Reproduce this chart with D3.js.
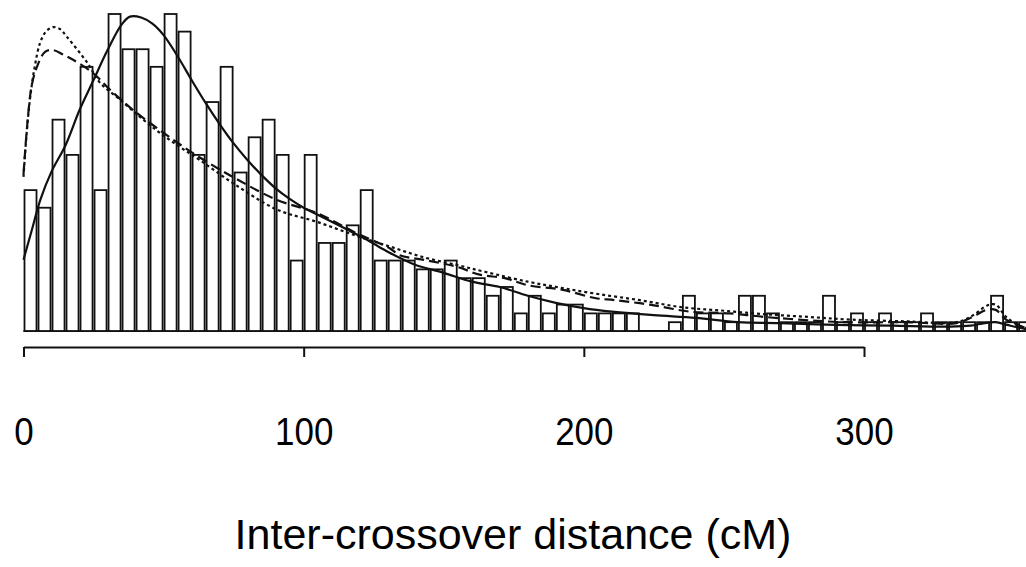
<!DOCTYPE html>
<html>
<head>
<meta charset="utf-8">
<script src="https://cdn.jsdelivr.net/npm/d3@7"></script>
<style>
  html, body { margin: 0; padding: 0; background: #fff; }
  svg { display: block; }
  text { font-family: "Liberation Sans", Arial, Helvetica, sans-serif; fill: #000; }
</style>
</head>
<body>
<svg id="chart" width="1026" height="567"></svg>
<script>
// ---- data ----
const binWidth = 5;
const binStarts = d3.range(0, 360, 5);
const binCounts = [16,14,24,20,30,16,36,32,32,30,36,34,20,26,30,18,22,24,20,8,
                   20,10,10,12,16,8,8,8,7,7,8,6,6,4,5,2,4,2,3,3,
                   2,2,2,2,0,0,1,4,2,2,1,4,4,2,1,1,1,4,1,2,
                   1,2,1,1,2,1,1,1,1,4,1,1];

const xTicks = [0, 100, 200, 300];
const xLabel = "Inter-crossover distance (cM)";

// fitted curves (cM, count scale)
const solidX = [0,3,6,10,15,20,25,30,35,38,42,46,50,55,60,65,70,75,80,85,90,95,100,105,110,115,120,125,130,135,140,150,160,170,180,190,200,210,225,240,255,270,290,310,330,338,343,347,351,355,360];
const solidY = [8.1,11.5,14.9,18.1,21.1,25.1,28.5,31.9,34.8,35.7,35.6,34.9,33.6,31.2,28.5,25.9,23.5,21.3,19.4,17.7,16.2,15.0,14.0,13.2,12.4,11.6,10.8,9.9,9.0,8.2,7.5,6.6,5.6,5.0,4.0,3.2,2.6,2.2,1.8,1.5,1.0,0.9,0.7,0.6,0.5,0.6,0.9,1.0,0.7,0.4,0.1];

const dashX = [0,1.5,3,4.8,7.7,10.5,14.1,17.7,24.8,30.9,39.1,48.7,60.5,74.7,90.4,104.7,118.9,130.7,134.3,142.5,154.6,162.8,171.8,180,192.1,203.9,211,223.5,237.8,252,264.5,278.8,293,315,333,338.7,343.7,347,350.9,357.7,361];
const dashY = [17.8,24.0,28.0,30.0,31.7,31.9,31.4,30.8,29.3,27.4,25.1,22.8,20.2,17.5,14.9,13.4,11.1,9.4,8.6,8.1,7.3,6.4,6.0,5.2,4.7,3.75,3.5,3.0,2.2,2.0,1.6,1.25,1.0,1.0,0.9,1.6,2.4,2.4,1.25,0.35,0.1];

const dotX = [0,1,2.3,4,5.9,8,10.5,13,15.5,22.7,27.3,34.4,41.6,48.7,55.8,63,74.7,90.4,104.7,118.9,130.7,142.5,154.6,165,180,192,205,220,235,250,265,280,295,315,333,339,344,347,351,357,361];
const dotY = [17.5,22.0,26.3,30.0,32.7,34.0,34.5,34.3,33.4,30.5,28.2,26.3,24.3,22.5,20.9,19.4,16.8,13.8,12.4,10.8,9.6,8.4,7.5,6.7,5.6,4.9,4.2,3.5,2.7,2.3,1.9,1.6,1.3,1.1,1.0,1.8,2.9,3.0,1.5,0.4,0.1];

// ---- drawing ----
const svg = d3.select("#chart");
const x = d3.scaleLinear().domain([0, 300]).range([23.5, 864]);
const y = d3.scaleLinear().domain([0, 36]).range([331, 14]);

// baseline under bars (zero-height bins)
svg.append("line")
  .attr("x1", x(binStarts[0])).attr("x2", x(binStarts[binStarts.length - 1] + binWidth))
  .attr("y1", y(0)).attr("y2", y(0))
  .attr("stroke", "#111").attr("stroke-width", 1.8);

// bars
svg.append("g").selectAll("rect")
  .data(binStarts.map((s, i) => ({s, c: binCounts[i]})).filter(d => d.c > 0))
  .join("rect")
  .attr("x", d => x(d.s) + 1)
  .attr("y", d => y(d.c))
  .attr("width", d => x(d.s + binWidth) - x(d.s) - 2)
  .attr("height", d => y(0) - y(d.c))
  .attr("fill", "#fff")
  .attr("stroke", "#111")
  .attr("stroke-width", 1.8);

const line = d3.line().x(d => x(d[0])).y(d => y(d[1])).curve(d3.curveCatmullRom.alpha(0.5));

function drawCurve(xs, ys, dash) {
  svg.append("path")
    .datum(xs.map((v, i) => [v, ys[i]]))
    .attr("d", line)
    .attr("fill", "none")
    .attr("stroke", "#111")
    .attr("stroke-width", 2.2)
    .attr("stroke-dasharray", dash);
}
drawCurve(dotX, dotY, "3,3");
drawCurve(dashX, dashY, "10,5");
drawCurve(solidX, solidY, null);

// axis
const axis = d3.axisBottom(x).tickValues(xTicks).tickSize(10).tickSizeOuter(0);
const gx = svg.append("g").attr("transform", "translate(0,347)").call(axis);
gx.selectAll("path, line").attr("stroke", "#111").attr("stroke-width", 2);
gx.selectAll("text")
  .attr("y", 0).attr("dy", 0)
  .attr("transform", "translate(0,98) scale(1,1.12)")
  .attr("font-size", 35)
  .attr("font-family", "Liberation Sans, Arial, sans-serif")
  .attr("fill", "#000");

svg.append("text")
  .attr("x", 513)
  .attr("y", 549)
  .attr("text-anchor", "middle")
  .attr("font-size", 43)
  .text(xLabel);
</script>
</body>
</html>
